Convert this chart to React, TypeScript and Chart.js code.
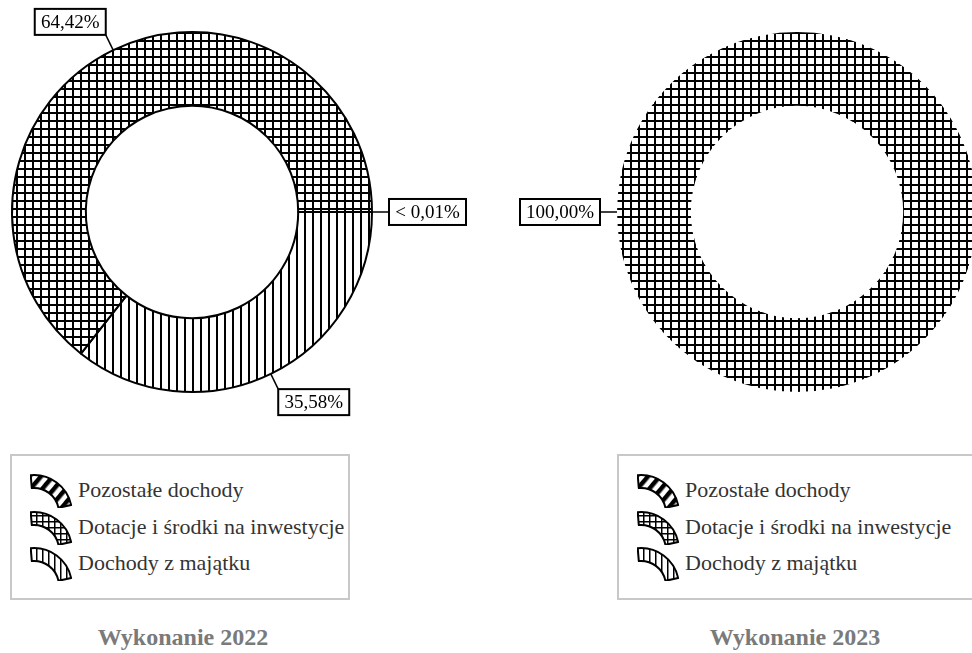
import React, { useEffect, useRef } from 'react';
import { Chart, registerables } from 'chart.js';

Chart.register(...registerables);

// ---- data ----
const categories = ['Pozostałe dochody', 'Dotacje i środki na inwestycje', 'Dochody z majątku'];
const values2022 = [0.004, 64.42, 35.58];
const values2023 = [0, 100, 0];
const labels2022 = ['< 0,01%', '64,42%', '35,58%'];
const labels2023 = ['', '100,00%', ''];
const titles = ['Wykonanie 2022', 'Wykonanie 2023'];
const patternKinds = ['diagonal', 'grid', 'vertical'];
// slices are drawn clockwise from 3 o'clock in reverse legend order
const drawOrder = [2, 1, 0];

const SERIF = '"Liberation Serif", "Times New Roman", serif';

function makePattern(kind: string): CanvasPattern | string {
  const c = document.createElement('canvas');
  const s = kind === 'diagonal' ? 10 : 8;
  c.width = s;
  c.height = s;
  const g = c.getContext('2d');
  if (!g) return '#000';
  g.fillStyle = '#fff';
  g.fillRect(0, 0, s, s);
  g.fillStyle = '#000';
  if (kind === 'grid') {
    g.fillRect(0, 0, 2, s);
    g.fillRect(0, 0, s, 2);
  } else if (kind === 'vertical') {
    g.fillRect(0, 0, 2, s);
  } else {
    g.strokeStyle = '#000';
    g.lineWidth = 3;
    g.beginPath();
    g.moveTo(-2, s + 2);
    g.lineTo(s + 2, -2);
    g.moveTo(-2 - s, s + 2);
    g.lineTo(2, -2);
    g.moveTo(s - 2, s + 2);
    g.lineTo(2 * s + 2, -2);
    g.stroke();
  }
  return g.createPattern(c, 'repeat') || '#000';
}

const boxLabelPlugin = {
  id: 'boxLabels',
  afterDatasetsDraw(chart: any, _args: any, opts: any) {
    const ctx = chart.ctx;
    const meta = chart.getDatasetMeta(0);
    const labels: string[] = opts.labels || [];
    meta.data.forEach((arc: any, j: number) => {
      const text = labels[j];
      if (!text) return;
      const p = arc.getProps(['x', 'y', 'startAngle', 'endAngle', 'outerRadius'], true);
      const mid = (p.startAngle + p.endAngle) / 2;
      const cos = Math.cos(mid);
      const sin = Math.sin(mid);
      const r0 = p.outerRadius;
      const r1 = r0 + (opts.lead || 17);
      const x0 = p.x + cos * r0;
      const y0 = p.y + sin * r0;
      const x1 = p.x + cos * r1;
      const y1 = p.y + sin * r1;
      ctx.save();
      ctx.strokeStyle = '#000';
      ctx.lineWidth = 1.5;
      ctx.beginPath();
      ctx.moveTo(x0, y0);
      ctx.lineTo(x1, y1);
      ctx.stroke();
      ctx.font = '19px ' + SERIF;
      const tw = ctx.measureText(text).width;
      const bw = Math.round(tw + 12);
      const bh = 26;
      const bx = cos > 0.3 ? x1 : cos < -0.3 ? x1 - bw : x1 - bw / 2;
      const by = sin > 0.3 ? y1 : sin < -0.3 ? y1 - bh : y1 - bh / 2;
      ctx.fillStyle = '#fff';
      ctx.fillRect(bx, by, bw, bh);
      ctx.lineWidth = 2;
      ctx.strokeRect(bx, by, bw, bh);
      ctx.fillStyle = '#000';
      ctx.textAlign = 'center';
      ctx.textBaseline = 'middle';
      ctx.fillText(text, bx + bw / 2, by + bh / 2 + 1);
      ctx.restore();
    });
  },
};

type DonutProps = {
  values: number[];
  labels: string[];
  left: number;
  padLeft: number;
  padRight: number;
  border: number;
};

function Donut({ values, labels, left, padLeft, padRight, border }: DonutProps) {
  const ref = useRef<HTMLCanvasElement | null>(null);
  useEffect(() => {
    if (!ref.current) return;
    const patterns = patternKinds.map(makePattern);
    const chart = new Chart(ref.current, {
      type: 'doughnut',
      data: {
        labels: drawOrder.map((i) => categories[i]),
        datasets: [
          {
            data: drawOrder.map((i) => values[i]),
            backgroundColor: drawOrder.map((i) => patterns[i]) as any,
            borderColor: '#000',
            borderWidth: border,
            hoverOffset: 0,
          },
        ],
      },
      options: {
        responsive: false,
        animation: false,
        rotation: 90,
        radius: 180,
        cutout: '59%',
        layout: { padding: { left: padLeft, right: padRight, top: 0, bottom: 16 } },
        plugins: {
          legend: { display: false },
          tooltip: { enabled: false },
          boxLabels: { labels: drawOrder.map((i) => labels[i]), lead: 17 },
        } as any,
      },
      plugins: [boxLabelPlugin],
    });
    return () => chart.destroy();
  }, []);
  return (
    <canvas
      ref={ref}
      width={486}
      height={440}
      style={{ position: 'absolute', left, top: 0, width: 486, height: 440 }}
    />
  );
}

function arcPath(cx: number, cy: number, ro: number, ri: number, a0: number, a1: number) {
  const r = (d: number) => (d * Math.PI) / 180;
  const p = (rad: number, a: number) => [cx + rad * Math.cos(r(a)), cy + rad * Math.sin(r(a))];
  const [ox0, oy0] = p(ro, a0);
  const [ox1, oy1] = p(ro, a1);
  const [ix1, iy1] = p(ri, a1);
  const [ix0, iy0] = p(ri, a0);
  return `M${ox0},${oy0} A${ro},${ro} 0 0 1 ${ox1},${oy1} L${ix1},${iy1} A${ri},${ri} 0 0 0 ${ix0},${iy0} Z`;
}

function LegendIcon({ kind, id }: { kind: string; id: string }) {
  const d = arcPath(4, 41, 38, 25, -95, -12);
  let pat: React.ReactNode;
  if (kind === 'grid') {
    pat = (
      <pattern id={id} width="6" height="6" patternUnits="userSpaceOnUse">
        <rect width="6" height="6" fill="#fff" />
        <rect width="1.5" height="6" fill="#000" />
        <rect width="6" height="1.5" fill="#000" />
      </pattern>
    );
  } else if (kind === 'vertical') {
    pat = (
      <pattern id={id} width="6" height="6" patternUnits="userSpaceOnUse">
        <rect width="6" height="6" fill="#fff" />
        <rect width="1.5" height="6" fill="#000" />
      </pattern>
    );
  } else {
    pat = (
      <pattern id={id} width="9" height="9" patternUnits="userSpaceOnUse" patternTransform="rotate(40)">
        <rect width="9" height="9" fill="#fff" />
        <rect width="4.5" height="9" fill="#000" />
      </pattern>
    );
  }
  return (
    <svg width="44" height="36" style={{ position: 'absolute', left: 0, top: -18 }}>
      <defs>{pat}</defs>
      <path d={d} fill={`url(#${id})`} stroke="#000" strokeWidth="2" strokeLinejoin="round" />
    </svg>
  );
}

function Legend({ left, width, prefix }: { left: number; width: number; prefix: string }) {
  const rows = [490, 527, 563];
  return (
    <div
      style={{
        position: 'absolute',
        left,
        top: 454,
        width,
        height: 146,
        border: '2px solid #c8c8c8',
        boxSizing: 'border-box',
      }}
    >
      {categories.map((c, i) => (
        <div key={c} style={{ position: 'absolute', left: 0, top: rows[i] - 454 - 2, width: '100%' }}>
          <div style={{ position: 'absolute', left: 18, top: 0 }}>
            <LegendIcon kind={patternKinds[i]} id={`${prefix}-p${i}`} />
          </div>
          <div
            style={{
              position: 'absolute',
              left: 66,
              top: -14,
              height: 28,
              lineHeight: '28px',
              fontFamily: SERIF,
              fontSize: 22,
              color: '#333',
              whiteSpace: 'nowrap',
            }}
          >
            {c}
          </div>
        </div>
      ))}
    </div>
  );
}

function Title({ center, text }: { center: number; text: string }) {
  return (
    <div
      style={{
        position: 'absolute',
        left: center - 150,
        width: 300,
        top: 622,
        height: 30,
        lineHeight: '30px',
        textAlign: 'center',
        fontFamily: SERIF,
        fontWeight: 'bold',
        fontSize: 24,
        color: '#7a7a7a',
      }}
    >
      {text}
    </div>
  );
}

export default function App() {
  return (
    <div
      style={{
        position: 'absolute',
        left: 0,
        top: 0,
        width: 972,
        height: 653,
        overflow: 'hidden',
        background: '#fff',
      }}
    >
      <Donut values={values2022} labels={labels2022} left={0} padLeft={0} padRight={102} border={2} />
      <Donut values={values2023} labels={labels2023} left={486} padLeft={136} padRight={0} border={0} />
      <Legend left={10} width={340} prefix="l1" />
      <Legend left={617} width={372} prefix="l2" />
      <Title center={183} text={titles[0]} />
      <Title center={795} text={titles[1]} />
    </div>
  );
}
